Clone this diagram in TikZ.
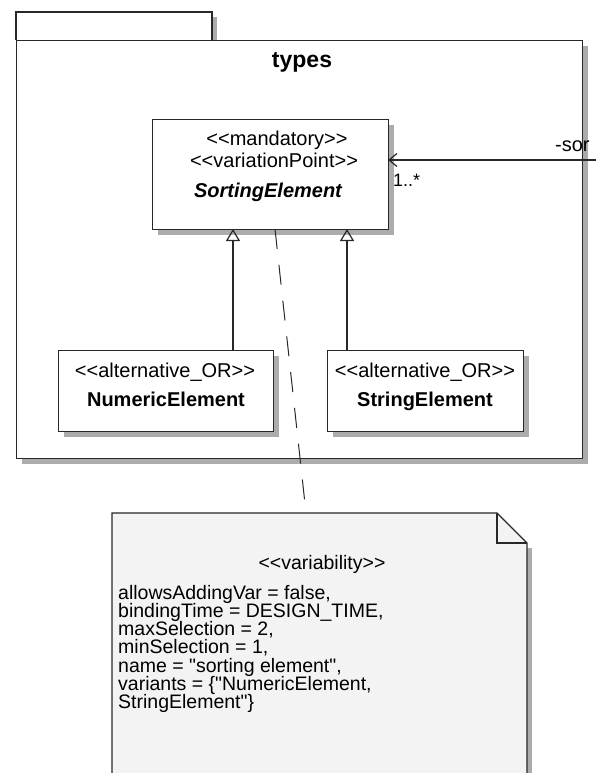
\documentclass[tikz,border=0pt]{standalone}
\usepackage{fontspec}
\setmainfont{Liberation Sans}[Ligatures=TeXOff]
\usetikzlibrary{arrows.meta,shadows}
\definecolor{shadowgray}{RGB}{172,172,172}
\definecolor{notefill}{RGB}{243,243,243}
\definecolor{edge}{RGB}{40,40,40}
\tikzset{
  boxshadow/.style={drop shadow={shadow xshift=5pt, shadow yshift=-5pt, fill=shadowgray, opacity=1}},
  classbox/.style={draw=edge, line width=1.3pt, fill=white, boxshadow, inner sep=0pt, anchor=north west},
  stereo/.style={font=\fontsize{20}{22}\selectfont, anchor=base, inner sep=0pt},
  cname/.style={font=\bfseries\fontsize{20}{22}\selectfont, anchor=base, inner sep=0pt},
  notetext/.style={font=\fontsize{19.5}{18.3}\selectfont, anchor=base west, inner sep=0pt},
  conn/.style={draw=edge, line width=1.2pt},
  genarrow/.style={conn, -{Triangle[open, length=12pt, width=14pt, line width=1.2pt]}},
}
\begin{document}
\begin{tikzpicture}[x=1pt, y=-1pt]
\useasboundingbox (0,0) rectangle (596,773);
\fill[white] (0,0) rectangle (596,773);

% package tab
\fill[shadowgray] (212,17) rectangle (217,40);
\draw[edge, line width=1.3pt, fill=white] (16,40) -- (16,12) -- (212,12) -- (212,40);
% package body
\node[classbox, minimum width=566pt, minimum height=418pt] (pkg) at (16,40) {};
\node[font=\bfseries\fontsize{23}{25}\selectfont, anchor=base, inner sep=0pt] (pkgname) at (302,68) {types};

% SortingElement
\node[classbox, minimum width=236pt, minimum height=110pt] (se) at (152,119) {};
\node[stereo] (se1) at (277,146) {<<mandatory>>};
\node[stereo] (se2) at (274,167) {<<variationPoint>>};
\node[cname, font=\bfseries\itshape\fontsize{20}{22}\selectfont] (se3) at (268,197) {SortingElement};

% NumericElement
\node[classbox, minimum width=215pt, minimum height=81pt] (ne) at (58,350) {};
\node[stereo] (ne1) at (165,377) {<<alternative\_OR>>};
\node[cname] (ne2) at (166,406) {NumericElement};

% StringElement
\node[classbox, minimum width=196pt, minimum height=81pt] (st) at (327,350) {};
\node[stereo] (st1) at (425,377) {<<alternative\_OR>>};
\node[cname] (st2) at (425,406) {StringElement};

% generalizations
\coordinate (neTop) at (233,350);
\coordinate (seBotL) at (233,229);
\coordinate (stTop) at (347,350);
\coordinate (seBotR) at (347,229);
\draw[genarrow] (neTop) -- (seBotL);
\draw[genarrow] (stTop) -- (seBotR);

% association from the right
\coordinate (assocEnd) at (600,160);
\coordinate (seRight) at (388,160);
\draw[conn, -{Straight Barb[length=8pt, width=13pt, line width=1.2pt]}] (assocEnd) -- (seRight);
\node[font=\fontsize{18}{20}\selectfont, anchor=base west, inner sep=0pt] (mult) at (393,186) {1..*};
\node[font=\fontsize{20}{22}\selectfont, anchor=base west, inner sep=0pt] (role) at (555,151) {-sor};

% note
\node[minimum width=415pt, minimum height=275pt, anchor=north west, inner sep=0pt] (note) at (112,513) {};
\fill[shadowgray] (527,548) rectangle (532,780);
\draw[edge, line width=1.3pt, fill=notefill] (112,780) -- (112,513) -- (497,513) -- (527,543) -- (527,780);
\draw[edge, line width=1.3pt] (497,513) -- (497,543) -- (527,543);
\node[font=\fontsize{19.5}{20}\selectfont, anchor=base, inner sep=0pt] (nv) at (322,569) {<<variability>>};
\foreach \t [count=\i from 0] in {
  {allowsAddingVar = false,},
  {bindingTime = DESIGN\_TIME,},
  {maxSelection = 2,},
  {minSelection = 1,},
  {name = "sorting element",},
  {variants = \{"NumericElement,},
  {StringElement"\}}}
  \node[notetext] (nl\i) at (118,{599+18.3*\i}) {\t};

% anchor line
\coordinate (seAnchor) at (275,229);
\coordinate (noteAnchor) at (306,513);
\draw[conn, line width=1pt, dash pattern=on 20pt off 16pt] (seAnchor) -- (noteAnchor);
\end{tikzpicture}
\end{document}
